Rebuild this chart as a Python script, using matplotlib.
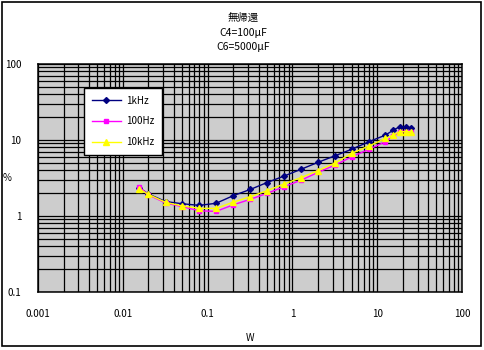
import matplotlib
matplotlib.use('Agg')
import matplotlib.pyplot as plt
from matplotlib.patches import Rectangle
from matplotlib.ticker import FixedLocator, NullFormatter

plt.rcParams['font.family'] = ['Noto Sans CJK JP', 'DejaVu Sans']

# output power (W)
watts = [0.0157, 0.02, 0.032, 0.05, 0.08, 0.126, 0.2, 0.32, 0.5, 0.8,
         1.26, 2.0, 3.2, 5.0, 8.0, 12.5, 15.5, 18.5, 22, 25]

# distortion (%)
thd_1k = [2.35, 1.95, 1.55, 1.45, 1.38, 1.47, 1.85, 2.24, 2.75, 3.36,
          4.11, 5.08, 6.22, 7.55, 9.5, 11.6, 13.5, 15.0, 15.0, 14.3]
thd_100 = [2.4, 1.9, 1.48, 1.33, 1.17, 1.15, 1.40, 1.66, 1.98, 2.43,
           2.95, 3.75, 4.69, 6.0, 7.55, 9.5, 11.3, 12.9, 12.9, 12.6]
thd_10k = [2.25, 1.93, 1.51, 1.36, 1.26, 1.26, 1.52, 1.80, 2.15, 2.64,
           3.2, 3.95, 5.0, 6.68, 8.34, 10.5, 11.6, 12.9, 12.9, 12.9]

x_ticks = [0.001, 0.01, 0.1, 1, 10, 100]
x_labels = ['0.001', '0.01', '0.1', '1', '10', '100']
y_ticks = [0.1, 1, 10, 100]
y_labels = ['0.1', '1', '10', '100']

fig = plt.figure(figsize=(4.85, 3.5), dpi=100)
W, H = 485, 350
ax = fig.add_axes([38 / W, 1 - 292 / H, 424 / W, 228 / H])
ax.set_facecolor('#cdcdcd')

ax.set_xscale('log')
ax.set_yscale('log')
ax.set_xlim(0.001, 100)
ax.set_ylim(0.1, 100)

ax.plot(watts, thd_1k, color='#000080', marker='D', markersize=3, lw=1, label='1kHz')
ax.plot(watts, thd_100, color='#ff00ff', marker='s', markersize=3.5, lw=1, label='100Hz')
ax.plot(watts, thd_10k, color='#ffff00', marker='^', markersize=4.5, lw=1, label='10kHz')

ax.xaxis.set_major_locator(FixedLocator(x_ticks))
ax.set_xticklabels(x_labels)
ax.yaxis.set_major_locator(FixedLocator(y_ticks))
ax.set_yticklabels(y_labels)
minor = [m * 10.0 ** e for e in range(-3, 2) for m in range(2, 10)]
ax.xaxis.set_minor_locator(FixedLocator(minor))
ax.yaxis.set_minor_locator(FixedLocator(minor))
ax.xaxis.set_minor_formatter(NullFormatter())
ax.yaxis.set_minor_formatter(NullFormatter())
ax.grid(True, which='both', color='black', lw=0.9)
ax.set_axisbelow(True)
ax.tick_params(which='both', length=0, labelsize=7)
ax.tick_params(axis='x', pad=12)
ax.tick_params(axis='y', pad=12)
for s in ax.spines.values():
    s.set_linewidth(1.1)

ax.set_xlabel('W', fontsize=7, labelpad=10)
ax.set_ylabel('%', fontsize=7, rotation=0)
ax.yaxis.set_label_coords(-0.072, 0.48)

leg = ax.legend(loc='upper left', bbox_to_anchor=(0.108, 0.895), fontsize=7,
                frameon=True, fancybox=False, edgecolor='black', framealpha=1,
                handlelength=3.0, labelspacing=1.1, borderpad=0.8,
                handletextpad=0.5, borderaxespad=0)
leg.get_frame().set_linewidth(1)

fig.text(243 / W, 1 - 18 / H, '無帰還', ha='center', va='center', fontsize=7.5)
fig.text(243 / W, 1 - 33 / H, 'C4=100μF', ha='center', va='center', fontsize=7.5)
fig.text(243 / W, 1 - 47 / H, 'C6=5000μF', ha='center', va='center', fontsize=7.5)

fig.patches.append(Rectangle((2 / W, 4 / H), 479 / W, 344 / H, transform=fig.transFigure,
                             fill=False, edgecolor='black', lw=1.2))

fig.savefig('out.png', dpi=100)
